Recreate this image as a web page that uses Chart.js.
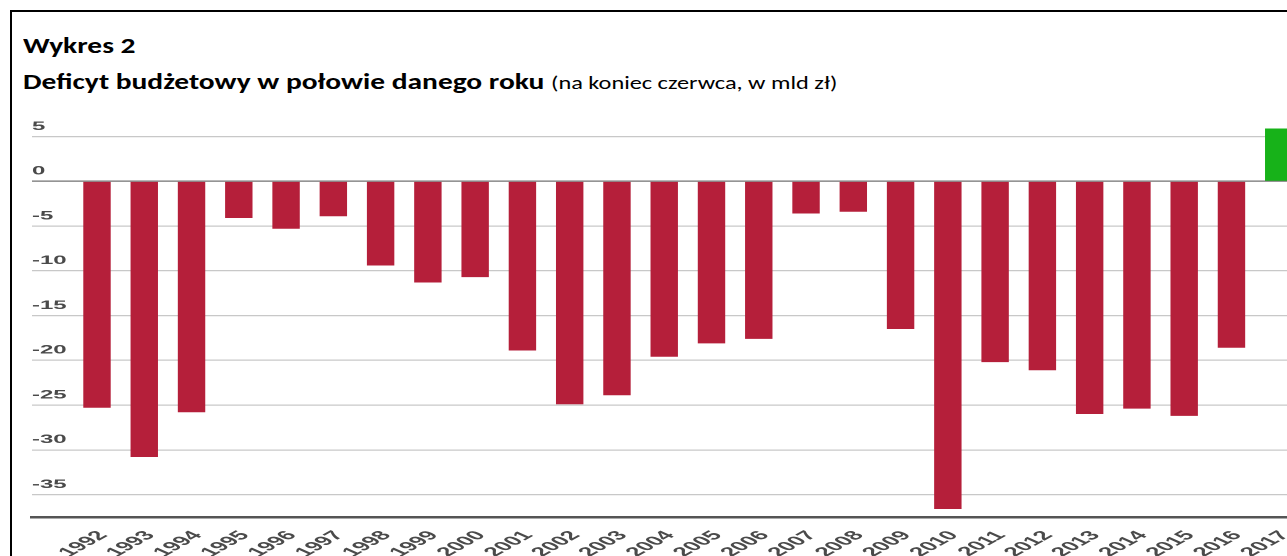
<!DOCTYPE html>
<html lang="pl">
<head>
<meta charset="utf-8">
<title>Wykres 2</title>
<script src="https://cdn.jsdelivr.net/npm/chart.js@4/dist/chart.umd.min.js"></script>
<style>
	html, body { margin: 0; padding: 0; background: #fff; overflow: hidden; }
	body { width: 1287px; height: 556px; position: relative; }
	#frame {
		position: absolute; left: 10px; top: 10px; width: 1400px; height: 600px;
		border-left: 2px solid #000; border-top: 2px solid #000;
	}
	.title {
		position: absolute; left: 23px; font-family: Carlito, Lato, sans-serif; color: #000;
		white-space: nowrap; transform: scaleX(1.28); transform-origin: 0 0;
	}
	#t1 { top: 31px; font-size: 23px; font-weight: bold; }
	#t2 { top: 67px; font-size: 23px; font-weight: bold; }
	#t2 span { font-weight: normal; font-size: 19px; }
	#wrap { position: absolute; left: 0; top: 0; transform: scaleX(2); transform-origin: 0 0; }
</style>
</head>
<body>
<div id="frame"></div>
<div class="title" id="t1">Wykres 2</div>
<div class="title" id="t2">Deficyt budżetowy w połowie danego roku <span>(na koniec czerwca, w mld zł)</span></div>
<div id="wrap"><canvas id="chart" width="670" height="580"></canvas></div>
<script>
// years on the x axis
const years = [ 1992, 1993, 1994, 1995, 1996, 1997, 1998, 1999, 2000, 2001, 2002, 2003, 2004,
	2005, 2006, 2007, 2008, 2009, 2010, 2011, 2012, 2013, 2014, 2015, 2016, 2017 ];
// balance at the end of June, bn PLN
const deficit = [ -25.3, -30.8, -25.8, -4.1, -5.3, -3.9, -9.4, -11.3, -10.7, -18.9, -24.9, -23.9, -19.6,
	-18.1, -17.6, -3.6, -3.4, -16.5, -36.6, -20.2, -21.1, -26.0, -25.4, -26.2, -18.6, 5.9 ];
// y axis range and step
const yRange = [ -37.5, 6 ];
const yStep = 5;

const RED = '#b51f3a';
const GREEN = '#17b219';
const TEXT = '#4a4a4a';

new Chart( document.getElementById( 'chart' ), {
	type: 'bar',
	data: {
		datasets: [{
			data: years.map( ( y, i ) => ({ x: y, y: deficit[i] }) ),
			backgroundColor: ctx => ( ctx.raw && ctx.raw.y >= 0 ) ? GREEN : RED,
			borderWidth: 0,
			categoryPercentage: 1,
			barPercentage: 0.58
		}]
	},
	options: {
		responsive: false,
		devicePixelRatio: 2,
		animation: false,
		layout: { padding: { top: 127.6, left: 16, right: 10, bottom: 0 } },
		plugins: { legend: { display: false }, tooltip: { enabled: false } },
		scales: {
			x: {
				type: 'linear',
				offset: false,
				min: years[0] - 1.375,
				max: years[0] + 25.873,
				afterBuildTicks: s => { s.ticks = years.map( v => ({ value: v }) ); },
				afterFit: s => { s.height = 63; s.paddingLeft = 0; s.paddingRight = 0; },
				grid: { display: false },
				border: { display: true, color: '#555', width: 2.5 },
				ticks: {
					autoSkip: false,
					minRotation: 48,
					maxRotation: 48,
					padding: 3,
					labelOffset: 3,
					color: TEXT,
					font: { family: '"Liberation Sans", Arial, sans-serif', size: 13, weight: 'bold' },
					callback: v => String( v )
				}
			},
			y: {
				min: yRange[0],
				max: yRange[1],
				afterFit: s => { s.width = 0; s.paddingTop = 0; s.paddingBottom = 0; },
				border: { display: false },
				grid: {
					drawTicks: false,
					color: ctx => ( ctx.tick && ctx.tick.value === 0 ) ? '#707070' : '#c8c8c8',
					lineWidth: 1.2
				},
				ticks: {
					stepSize: yStep,
					includeBounds: false,
					mirror: true,
					padding: 0,
					labelOffset: -10,
					color: TEXT,
					font: { family: '"Liberation Sans", Arial, sans-serif', size: 12, weight: 'bold' },
					callback: v => String( v )
				}
			}
		}
	}
});
</script>
</body>
</html>
